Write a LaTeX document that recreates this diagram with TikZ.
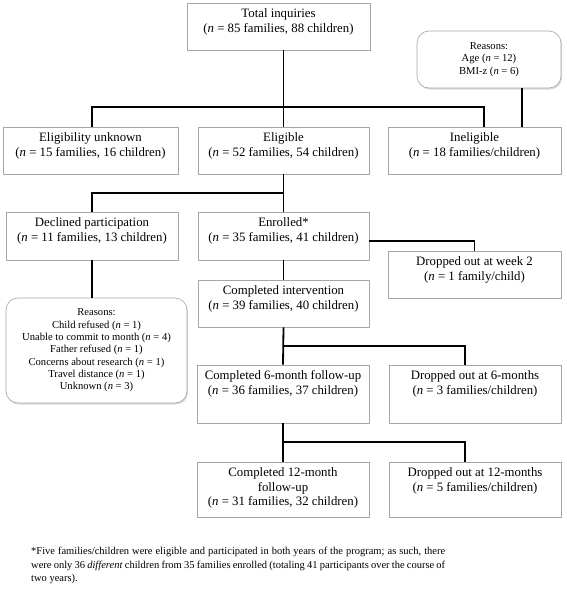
\documentclass[tikz,border=0pt]{standalone}
\usepackage{fontspec}
\setmainfont{Liberation Serif}
\usetikzlibrary{shadows}

\newcommand{\nn}{\textit{n}}

\tikzset{
  flowbox/.style={draw=gray!70, line width=0.6pt, fill=white, inner sep=0pt},
  notebox/.style={draw=gray!70, line width=0.6pt, fill=white, rounded corners=12pt,
    drop shadow={opacity=0.3, shadow xshift=1pt, shadow yshift=-1.5pt},
    align=center, inner sep=0pt, font=\fontsize{10.6}{12.3}\selectfont},
  boxtext/.style={anchor=north, align=center, inner sep=0pt, font=\fontsize{12.8}{14.5}\selectfont},
  joinline/.style={line width=1.8pt}
}

\begin{document}
\begin{tikzpicture}[x=1pt, y=-1pt] % pixel grid, y runs downwards

        \useasboundingbox (0,0) rectangle (567,592);

        % Boxes
        \node[flowbox, minimum width=183, minimum height=47] (total) at (278.5,26.5) {};
        \node[flowbox, minimum width=175, minimum height=47] (unknown) at (90.5,150.5) {};
        \node[flowbox, minimum width=171, minimum height=47] (eligible) at (283.5,150.5) {};
        \node[flowbox, minimum width=173, minimum height=47] (ineligible) at (474.5,150.5) {};
        \node[flowbox, minimum width=172, minimum height=48] (declined) at (92,236) {};
        \node[flowbox, minimum width=171, minimum height=48] (enrolled) at (283.5,236) {};
        \node[flowbox, minimum width=173, minimum height=47] (week2) at (474.5,274.5) {};
        \node[flowbox, minimum width=171, minimum height=47] (completed) at (283.5,303.5) {};
        \node[flowbox, minimum width=172, minimum height=58] (six) at (283,394) {};
        \node[flowbox, minimum width=172, minimum height=58] (drop6) at (475,394) {};
        \node[flowbox, minimum width=172, minimum height=55] (twelve) at (283,489.5) {};
        \node[flowbox, minimum width=172, minimum height=55] (drop12) at (475,489.5) {};

        % Box texts
        \node[boxtext] (total-t) at ([yshift=-6]total.north) {Total inquiries\\(\nn{} = 85 families, 88 children)};
        \node[boxtext] (unknown-t) at ([yshift=-6]unknown.north) {Eligibility unknown\\(\nn{} = 15 families, 16 children)};
        \node[boxtext] (eligible-t) at ([yshift=-6]eligible.north) {Eligible\\(\nn{} = 52 families, 54 children)};
        \node[boxtext] (ineligible-t) at ([yshift=-6]ineligible.north) {Ineligible\\(\nn{} = 18 families/children)};
        \node[boxtext] (declined-t) at ([yshift=-6]declined.north) {Declined participation\\(\nn{} = 11 families, 13 children)};
        \node[boxtext] (enrolled-t) at ([yshift=-6]enrolled.north) {Enrolled*\\(\nn{} = 35 families, 41 children)};
        \node[boxtext] (week2-t) at ([yshift=-6]week2.north) {Dropped out at week 2\\(\nn{} = 1 family/child)};
        \node[boxtext] (completed-t) at ([yshift=-6]completed.north) {Completed intervention\\(\nn{} = 39 families, 40 children)};
        \node[boxtext] (six-t) at ([yshift=-6]six.north) {Completed 6-month follow-up\\(\nn{} = 36 families, 37 children)};
        \node[boxtext] (drop6-t) at ([yshift=-6]drop6.north) {Dropped out at 6-months\\(\nn{} = 3 families/children)};
        \node[boxtext] (twelve-t) at ([yshift=-6]twelve.north) {Completed 12-month\\follow-up\\(\nn{} = 31 families, 32 children)};
        \node[boxtext] (drop12-t) at ([yshift=-6]drop12.north) {Dropped out at 12-months\\(\nn{} = 5 families/children)};

        % Reasons
        \node[notebox, minimum width=144, minimum height=57] (why-inel) at (489,59.5)
          {Reasons:\\Age (\nn{} = 12)\\BMI-z (\nn{} = 6)};
        \node[notebox, minimum width=181, minimum height=105] (why-decl) at (96.5,350.5)
          {Reasons:\\Child refused (\nn{} = 1)\\Unable to commit to month (\nn{} = 4)\\Father refused (\nn{} = 1)\\
           Concerns about research (\nn{} = 1)\\Travel distance (\nn{} = 1)\\Unknown (\nn{} = 3)};

        % Split points
        \coordinate (split1) at (283,107);
        \coordinate (split2) at (283,193);
        \coordinate (split3) at (283,346);
        \coordinate (split4) at (283,442);

        % Connectors
        \draw[joinline] (total.south -| eligible.north) -- (eligible.north);
        \draw[joinline] ([xshift=1.5]unknown.north) |- (split1) -| ([xshift=9.5]ineligible.north);
        \draw[joinline] ([xshift=33]why-inel.south) -- ([xshift=33]why-inel.south |- ineligible.north);
        \draw[joinline] (eligible.south) -- (enrolled.north);
        \draw[joinline] (declined.north) |- (split2);
        \draw[joinline] (declined.south) -- (declined.south |- why-decl.north);
        \draw[joinline] (enrolled.south) -- (completed.north);
        \draw[joinline] ([yshift=-5]enrolled.east) -| (week2.north);
        \draw[joinline] (completed.south) -- (six.north);
        \draw[joinline] (split3) -| ([xshift=-10]drop6.north);
        \draw[joinline] (six.south) -- (twelve.north);
        \draw[joinline] (split4) -| ([xshift=-10]drop12.north);

        % Footnote
        \node[anchor=north west, text width=414pt, align=justify, inner sep=0pt,
          font=\fontsize{10.5}{13.6}\selectfont] (note) at (31,547)
          {*Five families/children were eligible and participated in both years of the program; as such, there\linebreak
           were only 36 \textit{different} children from 35 families enrolled (totaling 41 participants over the course of\linebreak
           two years).};

    \end{tikzpicture}
\end{document}
